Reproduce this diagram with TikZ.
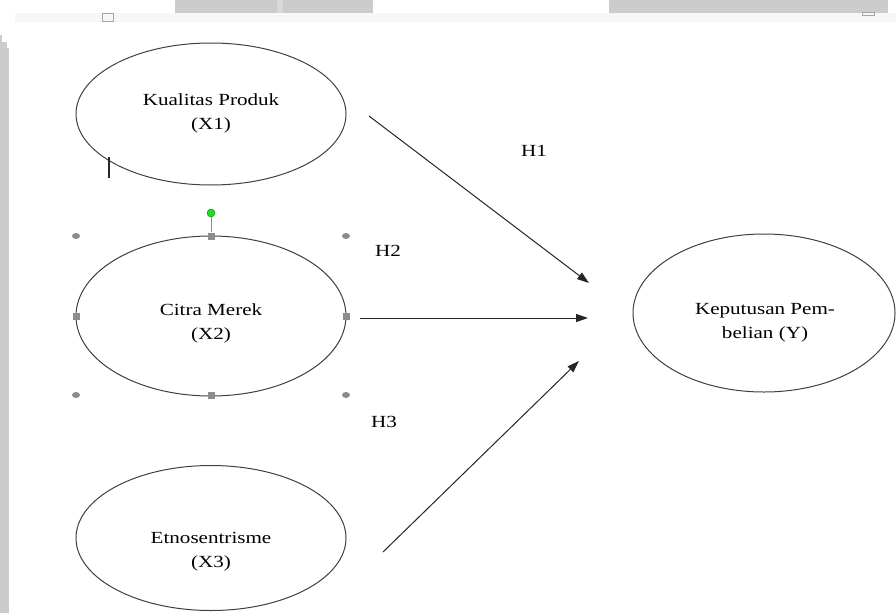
\documentclass[tikz,border=0pt]{standalone}
\usepackage{fontspec}
\setmainfont{Liberation Serif}
\usetikzlibrary{shapes.geometric,arrows.meta}
\definecolor{barGray}{HTML}{CCCCCC}
\definecolor{handleGray}{HTML}{8C8C8C}
\definecolor{rotGreen}{HTML}{22DD22}
\newcommand\twoline[2]{\scalebox{1.24}[1]{\begin{tabular}{@{}c@{}}#1\\#2\end{tabular}}}
\newcommand\oneline[1]{\scalebox{1.24}[1]{#1}}
\begin{document}
\begin{tikzpicture}[x=1pt,y=-1pt,
  ovalbox/.style={draw=black!75, line width=1pt, ellipse, inner sep=0pt},
  txt/.style={font=\fontsize{17}{24}\selectfont, inner sep=0pt},
  hlink/.style={draw=black!85, line width=1pt, -{Triangle[length=12pt,width=8pt]}},
  cornerdot/.style={ellipse, fill=handleGray, minimum width=8pt, minimum height=6pt, inner sep=0pt},
  sidesq/.style={rectangle, fill=handleGray, minimum size=7pt, inner sep=0pt}]
\useasboundingbox (0,0) rectangle (896,613);
\fill[white] (0,0) rectangle (896,613);

% window chrome: grey bars along the top and the left edge
\fill[black!3] (15,13) rectangle (896,22);
\fill[barGray] (175,0) rectangle (277,12.5);
\fill[black!15] (277,0) rectangle (283,12.5);
\fill[barGray] (283,0) rectangle (373,12.5);
\fill[barGray] (609,0) rectangle (888,12.5);
\fill[barGray] (0,48) rectangle (9,613);
\fill[barGray] (0,42) rectangle (7,48);
\fill[barGray] (0,35) rectangle (2,42);
\draw[black!35, line width=0.8pt] (102.5,13.5) rectangle (113.5,21);
\draw[black!35, line width=0.8pt] (862.5,12.5) rectangle (874.5,15.5);

% constructs
\node[ovalbox, minimum width=270pt, minimum height=142pt] (kp) at (211,114) {};
\node[ovalbox, minimum width=270pt, minimum height=160pt] (cm) at (211,316) {};
\node[ovalbox, minimum width=270pt, minimum height=145pt] (et) at (211,538) {};
\node[ovalbox, minimum width=262pt, minimum height=158pt] (kb) at (764,313) {};

\node[txt] (kpt) at (211,113) {\twoline{Kualitas Produk}{(X1)}};
\node[txt] (cmt) at (211,323) {\twoline{Citra Merek}{(X2)}};
\node[txt] (ett) at (211,551) {\twoline{Etnosentrisme}{(X3)}};
\node[txt] (kbt) at (765,322) {\twoline{Keputusan Pem-}{belian (Y)}};

% hypothesis paths
\coordinate (h1a) at (369,116);
\coordinate (h1b) at (589,283);
\coordinate (h2a) at (360,318);
\coordinate (h2b) at (588,318);
\coordinate (h3a) at (383,552);
\coordinate (h3b) at (579,361);
\draw[hlink] (h1a) -- (h1b);
\draw[hlink] (h2a) -- (h2b);
\draw[hlink] (h3a) -- (h3b);

\node[txt] (l1) at (534,151) {\oneline{H1}};
\node[txt] (l2) at (388,251) {\oneline{H2}};
\node[txt] (l3) at (384,422) {\oneline{H3}};

% text cursor below the first oval
\draw[black!85, line width=1.5pt] (109,157) -- (109,178);

% selection handles around the second oval
\node[cornerdot] (s1) at (76,236) {};
\node[cornerdot] (s2) at (346,236) {};
\node[cornerdot] (s3) at (76,395) {};
\node[cornerdot] (s4) at (346,395) {};
\node[sidesq] (q1) at (211,236) {};
\node[sidesq] (q2) at (76,316) {};
\node[sidesq] (q3) at (346,316) {};
\node[sidesq] (q4) at (211,395) {};
\node[circle, fill=rotGreen, draw=green!50!black, line width=0.4pt, minimum size=8pt, inner sep=0pt] (rot) at (211,213) {};
\draw[handleGray, line width=1pt] (rot) -- (q1);
\end{tikzpicture}
\end{document}
